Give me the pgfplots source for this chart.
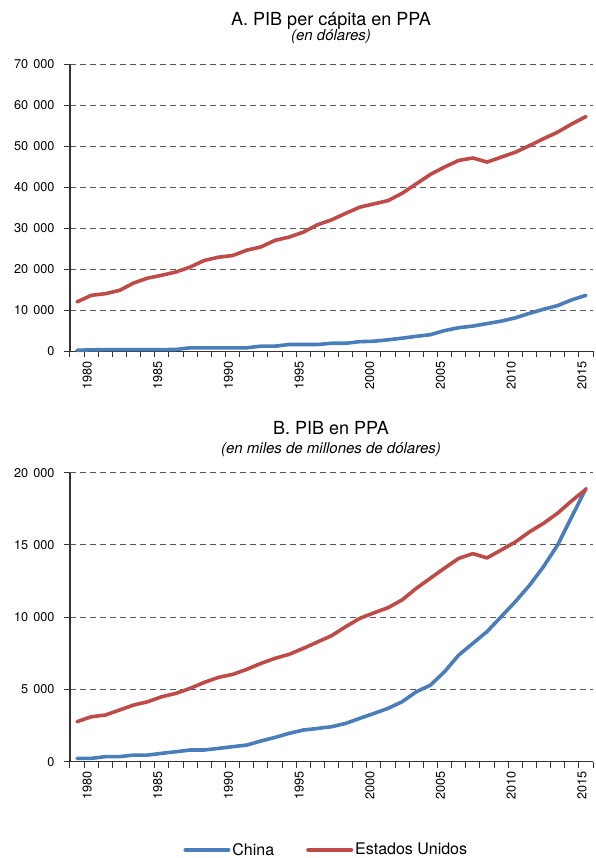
\documentclass[border=0pt]{standalone}
\usepackage{pgfplots}
\pgfplotsset{compat=1.18}
\usepackage{pgfplotstable}
\usepackage{fontspec}
\setmainfont{TeX Gyre Heros}

\definecolor{chinablue}{RGB}{74,126,187}
\definecolor{usred}{RGB}{190,75,72}

% year  china  us
\pgfplotstableread{
year china us
1980 300 12100
1981 400 13700
1982 450 14100
1983 450 14900
1984 450 16700
1985 450 17900
1986 450 18600
1987 500 19400
1988 900 20600
1989 900 22200
1990 900 23000
1991 900 23400
1992 900 24700
1993 1300 25500
1994 1300 27100
1995 1700 27900
1996 1700 29100
1997 1700 30900
1998 2000 32100
1999 2000 33700
2000 2400 35200
2001 2500 36000
2002 2850 36800
2003 3250 38600
2004 3700 40900
2005 4100 43200
2006 5100 45000
2007 5800 46600
2008 6200 47200
2009 6800 46200
2010 7400 47400
2011 8200 48600
2012 9300 50200
2013 10300 51900
2014 11200 53500
2015 12600 55500
2016 13700 57300
}\percapita

\pgfplotstableread{
year china us
1980 230 2770
1981 230 3110
1982 350 3230
1983 350 3575
1984 460 3920
1985 460 4150
1986 580 4500
1987 690 4730
1988 810 5075
1989 810 5490
1990 920 5835
1991 1040 6040
1992 1150 6390
1993 1430 6800
1994 1680 7150
1995 1960 7430
1996 2190 7840
1997 2300 8280
1998 2420 8720
1999 2650 9340
2000 3000 9920
2001 3340 10300
2002 3690 10660
2003 4150 11200
2004 4840 12000
2005 5300 12700
2006 6230 13400
2007 7380 14070
2008 8190 14400
2009 9000 14100
2010 10030 14650
2011 11070 15200
2012 12200 15900
2013 13500 16500
2014 15000 17200
2015 16960 18060
2016 18900 18850
}\total

\pgfplotsset{
  panel/.style={
    scale only axis,
    width=523pt,
    xmin=1979.5, xmax=2016.5,
    axis lines*=left,
    axis line style={black!80, line width=1.1pt},
    xtick={1980.5,1985.5,...,2015.5},
    xticklabels={1980,1985,1990,1995,2000,2005,2010,2015},
    minor xtick={1979.5,1980.5,...,2016.5},
    tick align=outside,
    major tick length=6pt,
    minor tick length=6pt,
    tick style={black!80, line width=1pt},
    ymajorgrids,
    grid style={black!65, line width=1pt, dash pattern=on 6pt off 4pt},
    scaled y ticks=false,
    /pgf/number format/assume math mode=true,
    /pgf/number format/1000 sep={\hspace{0.4em}},
    tick label style={font=\fontsize{12.7}{14}\selectfont},
    x tick label style={rotate=90, anchor=east, yshift=-3pt},
    y tick label style={xshift=-6pt},
    every axis plot/.append style={line width=3.6pt, line join=round, line cap=round},
    clip=false,
  }
}

\begin{document}
\begin{tikzpicture}
\useasboundingbox (0,0) rectangle (596pt,858pt);

\node[anchor=base, font=\fontsize{18}{20}\selectfont] at (331pt,832pt) {A. PIB per cápita en PPA};
\node[anchor=base, font=\fontsize{15}{17}\selectfont\itshape] at (331pt,817pt) {(en dólares)};

\begin{axis}[panel,
  at={(70pt,506.5pt)}, anchor=south west,
  height=287pt,
  ymin=0, ymax=70000, ytick={0,10000,...,70000},
]
\addplot[chinablue] table[x=year, y=china] {\percapita};
\addplot[usred] table[x=year, y=us] {\percapita};
\end{axis}

\node[anchor=base, font=\fontsize{18}{20}\selectfont] at (331pt,423pt) {B. PIB en PPA};
\node[anchor=base, font=\fontsize{15}{17}\selectfont\itshape] at (331pt,404pt) {(en miles de millones de dólares)};

\begin{axis}[panel,
  at={(70pt,96.3pt)}, anchor=south west,
  height=289pt,
  ymin=0, ymax=20000, ytick={0,5000,...,20000},
  legend style={at={(0.49,-0.305)}, anchor=center, draw=none, fill=none,
    legend columns=2, font=\fontsize{16}{18}\selectfont,
    /tikz/every even column/.append style={column sep=30pt}},
  legend image code/.code={\draw[#1, line width=4pt, line cap=round] (0pt,0pt) -- (43pt,0pt);},
]
\addplot[chinablue] table[x=year, y=china] {\total};
\addlegendentry{China}
\addplot[usred] table[x=year, y=us] {\total};
\addlegendentry{Estados Unidos}
\end{axis}
\end{tikzpicture}
\end{document}
